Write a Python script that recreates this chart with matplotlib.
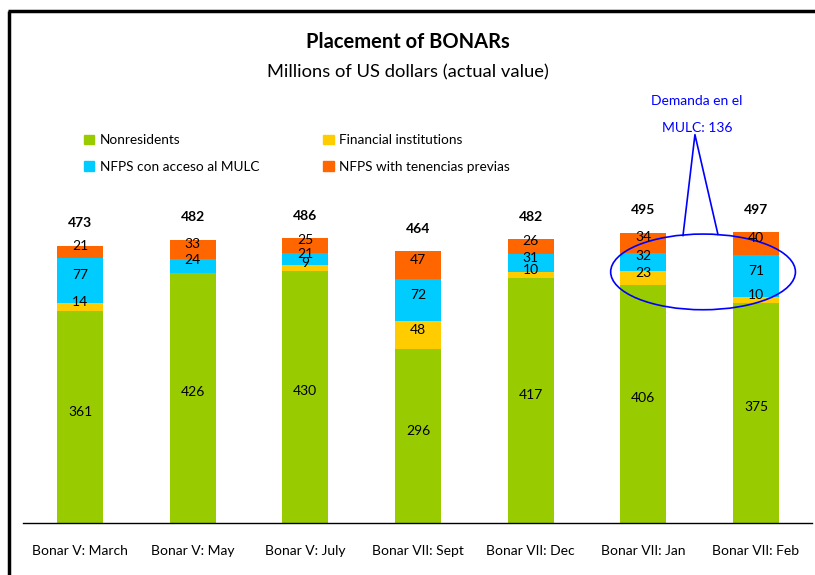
import matplotlib
matplotlib.use("Agg")
import matplotlib.pyplot as plt
from matplotlib.patches import Ellipse, Patch
from matplotlib.lines import Line2D
import numpy as np

plt.rcParams['font.family'] = ['Lato', 'DejaVu Sans']

categories = ["Bonar V: March", "Bonar V: May", "Bonar V: July", "Bonar VII: Sept",
              "Bonar VII: Dec", "Bonar VII: Jan", "Bonar VII: Feb"]
nonresidents = [361, 426, 430, 296, 417, 406, 375]
financial = [14, 0, 9, 48, 10, 23, 10]
nfps_mulc = [77, 24, 21, 72, 31, 32, 71]
nfps_prev = [21, 33, 25, 47, 26, 34, 40]
totals = [473, 482, 486, 464, 482, 495, 497]

series = [
    ("Nonresidents", nonresidents, "#99CC00"),
    ("Financial institutions", financial, "#FFCC00"),
    ("NFPS con acceso al MULC", nfps_mulc, "#00CCFF"),
    ("NFPS with tenencias previas", nfps_prev, "#FF6600"),
]

fig = plt.figure(figsize=(8.15, 5.75), dpi=100)
ax = fig.add_axes([23/815, 52/575, (812-23)/815, 352/575])
x = np.arange(len(categories))
bottom = np.zeros(len(categories))
for name, vals, col in series:
    vals = np.array(vals, dtype=float)
    ax.bar(x, vals, 0.41, bottom=bottom, color=col, label=name)
    for xi, v, bt in zip(x, vals, bottom):
        if v > 0:
            ax.annotate(f"{int(v)}", (xi, bt + v/2), xytext=(0, 4), textcoords="offset points",
                        ha="center", va="center", fontsize=10, color="black")
    bottom += vals

for xi, t, top in zip(x, totals, bottom):
    ax.annotate(f"{t}", (xi, top), xytext=(0, 16.0), textcoords="offset points",
                ha="center", va="center", fontsize=10, fontweight="bold")

ax.set_xlim(-0.506, 6.497)
ax.set_ylim(0, 600)
for s in ["top", "right", "left"]:
    ax.spines[s].set_visible(False)
ax.spines["bottom"].set_linewidth(1.0)
ax.set_yticks([])
ax.set_xticks(x)
ax.set_xticklabels(categories, fontsize=10)
ax.tick_params(axis="x", length=0, pad=16)

# Legend
colmap = {n: c for n, _, c in series}
order = ["Nonresidents", "NFPS con acceso al MULC", "Financial institutions", "NFPS with tenencias previas"]
fig.legend([Patch(color=colmap[o]) for o in order], order,
           ncol=2, loc="upper left", bbox_to_anchor=(72/815, 1 - 122/575),
           frameon=False, fontsize=9.8, handlelength=0.75, handleheight=0.75,
           handletextpad=0.4, columnspacing=4.7, labelspacing=1.05)

# Titles
fig.text(0.5, 1 - 42/575, "Placement of BONARs", ha="center", va="center",
         fontsize=14.5, fontweight="bold")
fig.text(0.5, 1 - 72/575, "Millions of US dollars (actual value)", ha="center", va="center",
         fontsize=13.2)

# Callout annotation
blue = "#0000FF"
ell = Ellipse((5.53, 428), 1.64, 129, fill=False, edgecolor=blue, linewidth=1.2, clip_on=False)
ax.add_patch(ell)
ax.plot([5.352, 5.458, 5.662], [490, 662, 492], color=blue, linewidth=1.2, clip_on=False)
ax.text(5.476, 720, "Demanda en el", color=blue, ha="center", va="center", fontsize=10, clip_on=False)
ax.text(5.476, 674, "MULC: 136", color=blue, ha="center", va="center", fontsize=10, clip_on=False)

# Frame lines (top and left)
fig.add_artist(Line2D([9/815, 9/815], [0, 1 - 11/575], color="black", linewidth=2.5,
                      transform=fig.transFigure, solid_capstyle="butt"))
fig.add_artist(Line2D([8/815, 1], [1 - 11/575, 1 - 11/575], color="black", linewidth=2.5,
                      transform=fig.transFigure, solid_capstyle="butt"))

fig.savefig("out.png", dpi=100)
